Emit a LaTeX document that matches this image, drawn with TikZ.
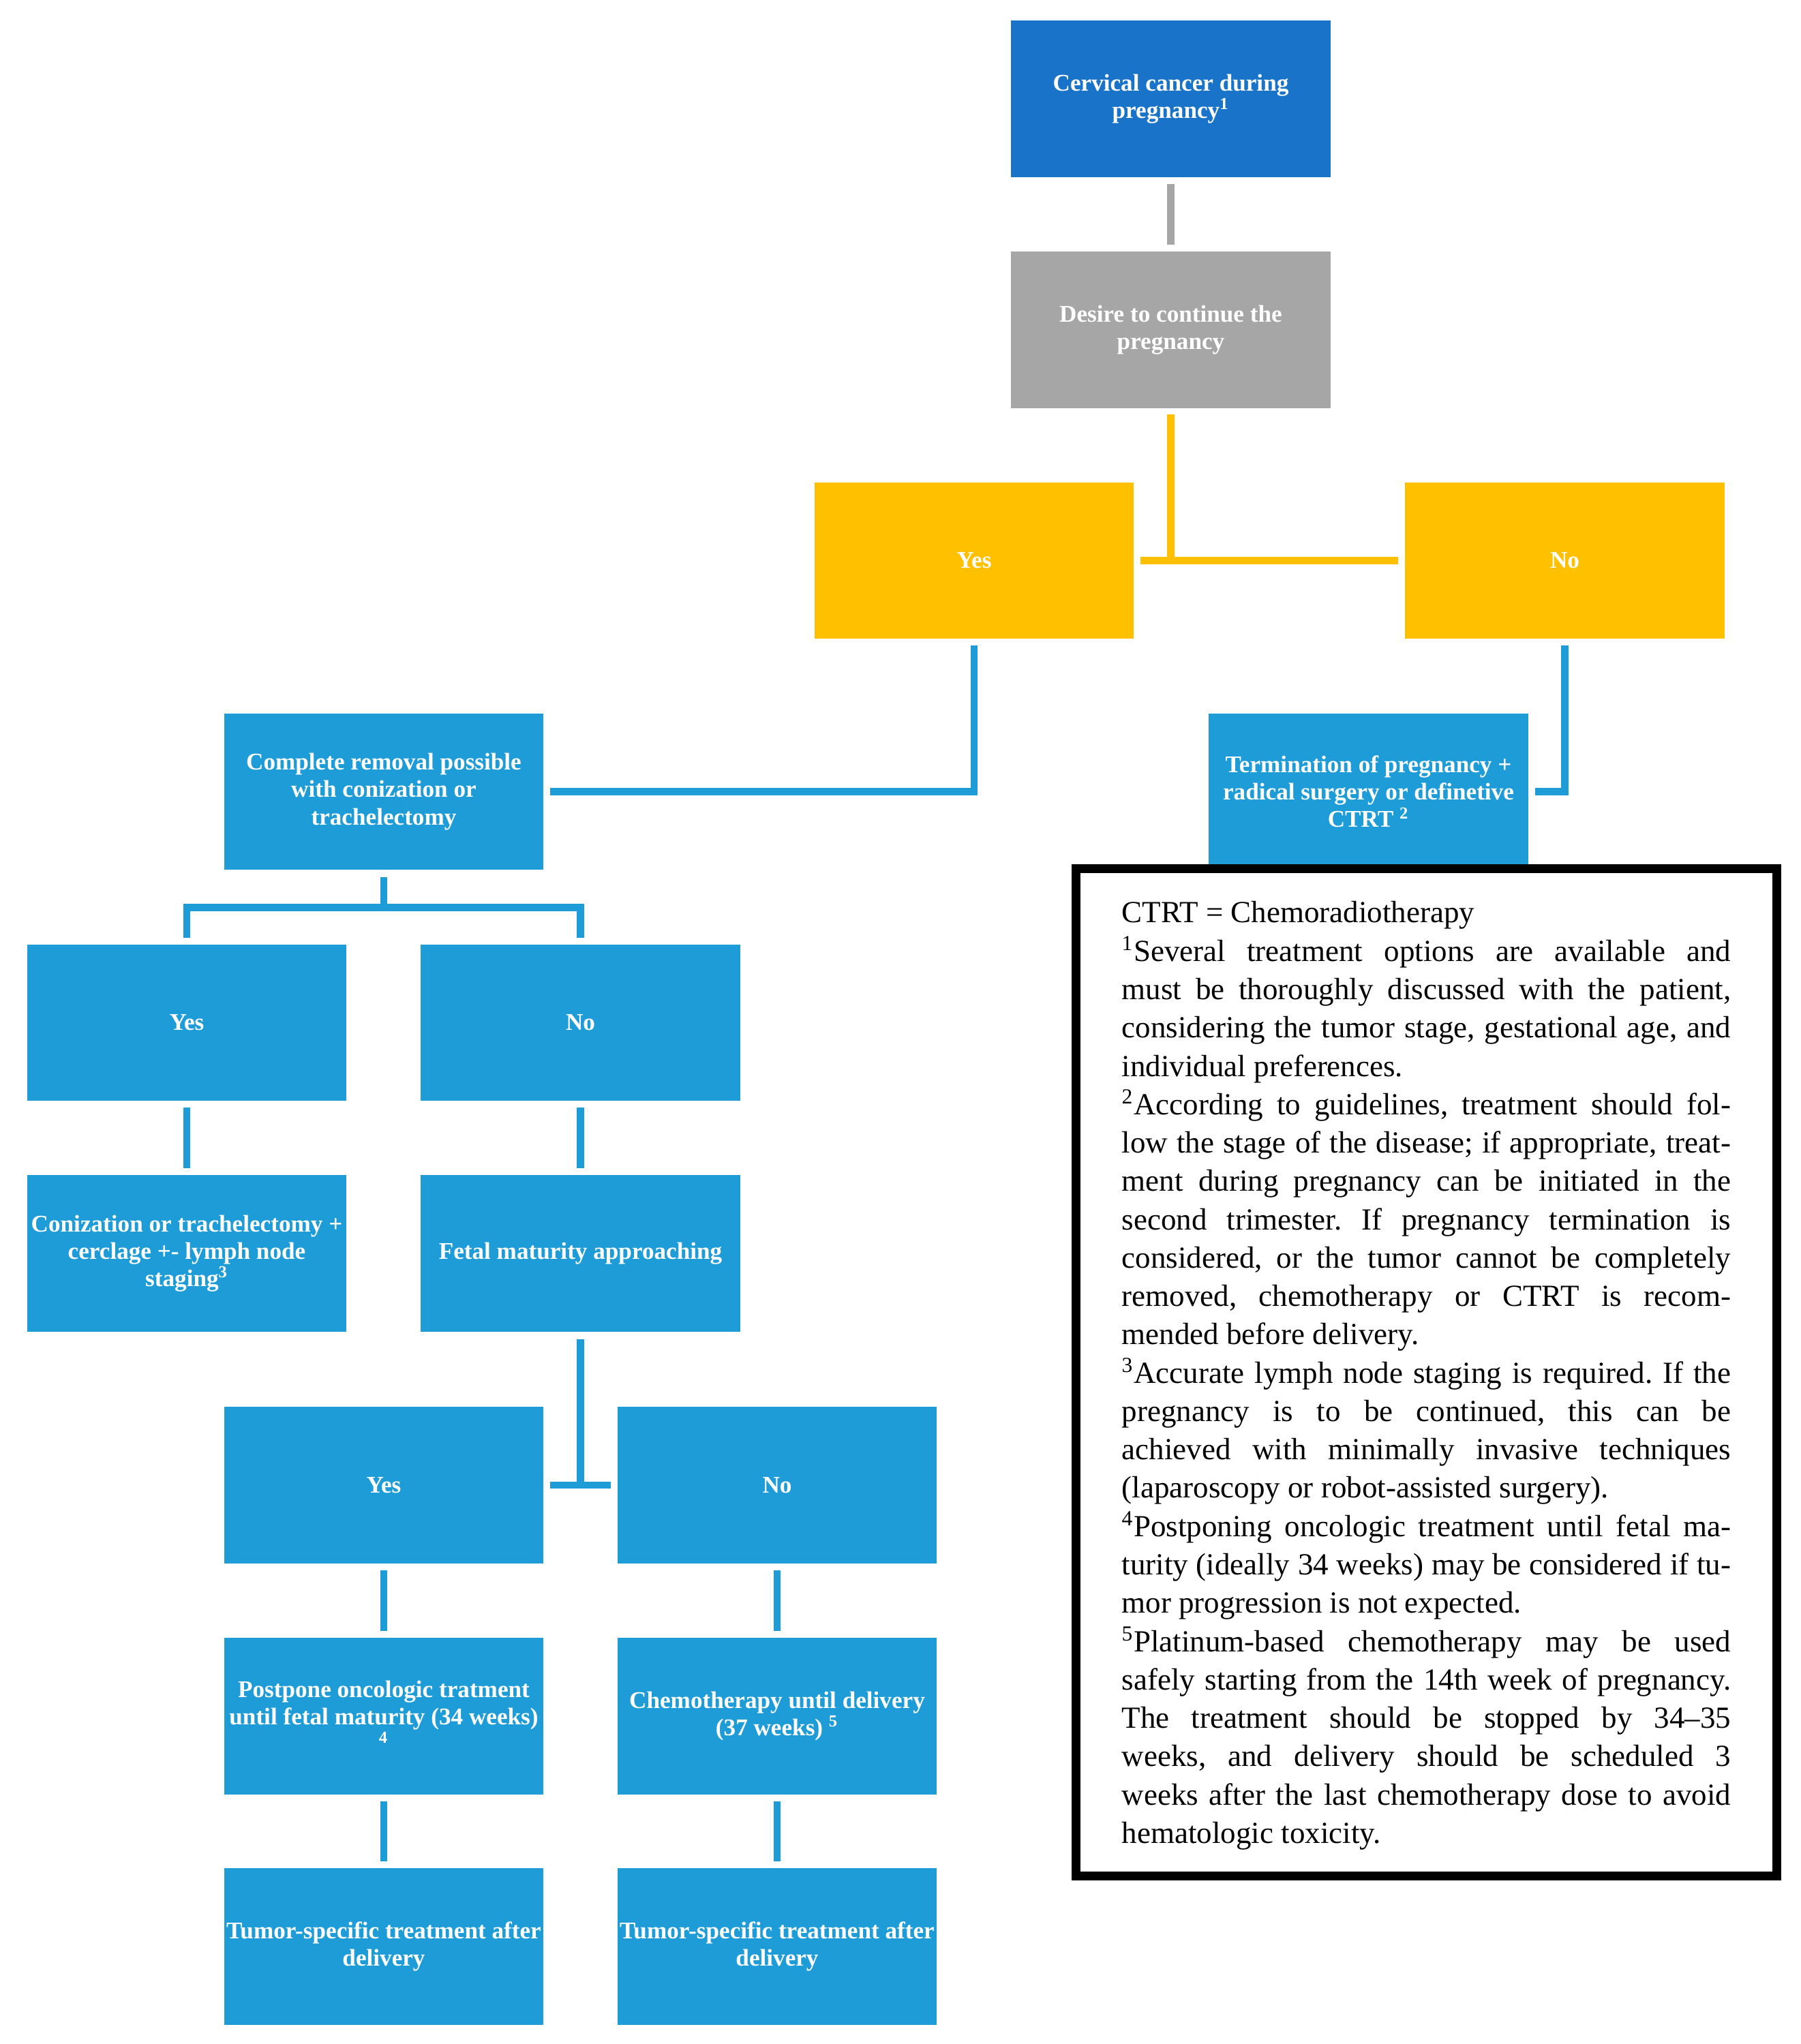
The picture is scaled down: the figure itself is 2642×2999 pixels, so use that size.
\documentclass[tikz,border=0pt]{standalone}
\usepackage{fontspec}
\setmainfont{Liberation Serif}
\usetikzlibrary{calc}
\definecolor{topblue}{RGB}{25,115,200}
\definecolor{grayc}{RGB}{166,166,166}
\definecolor{yel}{RGB}{255,192,0}
\definecolor{lblue}{RGB}{30,156,216}
\newlength\nw
\setlength\nw{8.93cm}
\newcommand\jline[1]{\hbox to \nw{#1}}
\frenchspacing
\begin{document}
\begin{tikzpicture}[x=0.01cm,y=-0.01cm,
  box/.style={minimum width=4.68cm, minimum height=2.29cm, inner sep=0pt, align=center, text=white, font=\bfseries\fontsize{10}{11.4}\selectfont},
  bluebox/.style={box, fill=lblue},
  conn/.style={line width=0.105cm},
  gapped/.style={shorten <=0.095cm, shorten >=0.095cm}]
\useasboundingbox (0,0) rectangle (2642,2999);
\fill[white] (0,0) rectangle (2642,2999);

% nodes
\node[box, fill=topblue] (top) at (1717.5,145) {Cervical cancer during\\pregnancy\textsuperscript{1}};
\node[box, fill=grayc] (gray) at (1717.5,484) {Desire to continue the\\pregnancy};
\node[box, fill=yel] (yesA) at (1429,822.5) {Yes};
\node[box, fill=yel] (noA) at (2295.5,822.5) {No};
\node[bluebox] (crem) at (563,1161.5) {Complete removal possible\\with conization or\\trachelectomy};
\node[bluebox] (term) at (2007.5,1161.5) {Termination of pregnancy +\\radical surgery or definetive\\CTRT \textsuperscript{2}};
\node[bluebox] (yesB) at (274,1500.5) {Yes};
\node[bluebox] (noB) at (851.5,1500.5) {No};
\node[bluebox] (conB) at (274,1839) {Conization or trachelectomy +\\cerclage +- lymph node\\staging\textsuperscript{3}};
\node[bluebox] (fetal) at (851.5,1839) {Fetal maturity approaching};
\node[bluebox] (yesC) at (563,2179) {Yes};
\node[bluebox] (noC) at (1140,2179) {No};
\node[bluebox] (post) at (563,2518) {Postpone oncologic tratment\\until fetal maturity (34 weeks)\\\textsuperscript{4}};
\node[bluebox] (chemo) at (1140,2518) {Chemotherapy until delivery\\(37 weeks) \textsuperscript{5}};
\node[bluebox] (tum1) at (563,2856) {Tumor-specific treatment after\\delivery};
\node[bluebox] (tum2) at (1140,2856) {Tumor-specific treatment after\\delivery};

% connectors
\draw[conn, draw=grayc, gapped] (top.south) -- (gray.north);
\draw[conn, draw=yel, gapped] (yesA.east) -- (noA.west);
\draw[conn, draw=yel, shorten <=0.09cm] (gray.south) -- (gray.south |- yesA.east);
\draw[conn, draw=lblue, gapped] (yesA.south) |- (crem.east);
\draw[conn, draw=lblue, gapped] (noA.south) |- (term.east);
\coordinate (m1) at (563,1331.5);
\draw[conn, draw=lblue, shorten <=0.1cm] (crem.south) -- (m1);
\draw[conn, draw=lblue, gapped] (yesB.north) |- (m1) -| (noB.north);
\draw[conn, draw=lblue, gapped] (yesB.south) -- (conB.north);
\draw[conn, draw=lblue, gapped] (noB.south) -- (fetal.north);
\draw[conn, draw=lblue, gapped] (yesC.east) -- (noC.west);
\draw[conn, draw=lblue, shorten <=0.11cm] (fetal.south) -- (fetal.south |- yesC.east);
\draw[conn, draw=lblue, gapped] (yesC.south) -- (post.north);
\draw[conn, draw=lblue, gapped] (post.south) -- (tum1.north);
\draw[conn, draw=lblue, gapped] (noC.south) -- (chemo.north);
\draw[conn, draw=lblue, gapped] (chemo.south) -- (tum2.north);

% notes frame
\draw[line width=0.135cm, fill=white] (1578.5,1274.5) rectangle (2606.5,2752.5);
\node[anchor=north west, inner sep=0pt, text width=\nw, align=justify,
  font=\fontsize{12.8}{16}\selectfont\frenchspacing] (notes) at (1645,1322) {%
CTRT = Chemoradiotherapy\\
\jline{\textsuperscript{1}Several treatment options are available and}\\
\jline{must be thoroughly discussed with the patient,}\\
\jline{considering the tumor stage, gestational age, and}\\
individual preferences.\\
\jline{\textsuperscript{2}According to guidelines, treatment should fol-}\\
\jline{low the stage of the disease; if appropriate, treat-}\\
\jline{ment during pregnancy can be initiated in the}\\
\jline{second trimester. If pregnancy termination is}\\
\jline{considered, or the tumor cannot be completely}\\
\jline{removed, chemotherapy or CTRT is recom-}\\
mended before delivery.\\
\jline{\textsuperscript{3}Accurate lymph node staging is required. If the}\\
\jline{pregnancy is to be continued, this can be}\\
\jline{achieved with minimally invasive techniques}\\
(laparoscopy or robot-assisted surgery).\\
\jline{\textsuperscript{4}Postponing oncologic treatment until fetal ma-}\\
\jline{turity (ideally 34 weeks) may be considered if tu-}\\
mor progression is not expected.\\
\jline{\textsuperscript{5}Platinum-based chemotherapy may be used}\\
\jline{safely starting from the 14th week of pregnancy.}\\
\jline{The treatment should be stopped by 34–35}\\
\jline{weeks, and delivery should be scheduled 3}\\
\jline{weeks after the last chemotherapy dose to avoid}\\
hematologic toxicity.};
\end{tikzpicture}
\end{document}
